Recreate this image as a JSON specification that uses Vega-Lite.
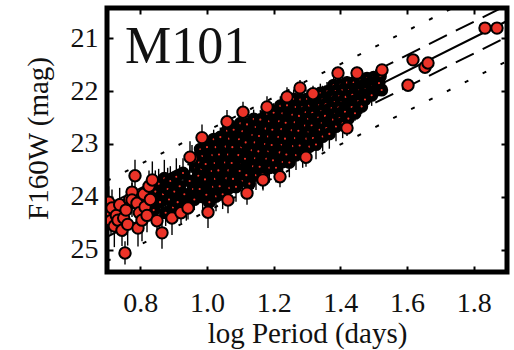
{
"$schema":"https://vega.github.io/schema/vega-lite/v6.json",
"width":400,"height":264,
"autosize":{"type":"none"},
"padding":{"left":107,"top":8,"right":7,"bottom":78},
"config":{"view":{"stroke":"black","strokeWidth":5},"font":"Liberation Serif"},
"datasets":{
"fit":[{"x":0.7,"y":24.456},{"x":1.9,"y":20.676}],
"dash":[{"x":0.7,"y":24.156,"g":"a"},{"x":1.9,"y":20.376,"g":"a"},{"x":0.7,"y":24.756,"g":"b"},{"x":1.9,"y":20.976,"g":"b"}],
"dot":[{"x":0.7,"y":23.696,"g":"a"},{"x":1.9,"y":19.916,"g":"a"},{"x":0.7,"y":25.216,"g":"b"},{"x":1.9,"y":21.436,"g":"b"}],
"lab":[{"x":0.754,"y":21.47,"t":"M101"}],
"core":[
{"x":0.840,"y":24.25,"e":0.25},{"x":0.845,"y":23.90,"e":0.4},{"x":0.855,"y":23.75,"e":0.28},{"x":0.859,"y":24.10,"e":0.32},
{"x":0.868,"y":23.95,"e":0.22},{"x":0.872,"y":23.65,"e":0.35},{"x":0.876,"y":24.30,"e":0.25},{"x":0.882,"y":23.85,"e":0.4},{"x":0.886,"y":24.05,"e":0.2},{"x":0.890,"y":23.70,"e":0.28},
{"x":0.898,"y":24.20,"e":0.3},{"x":0.902,"y":23.90,"e":0.22},{"x":0.908,"y":23.62,"e":0.35},{"x":0.912,"y":24.10,"e":0.25},{"x":0.918,"y":23.80,"e":0.4},{"x":0.928,"y":23.55,"e":0.28},{"x":0.932,"y":23.95,"e":0.32},
{"x":0.938,"y":24.15,"e":0.3},{"x":0.948,"y":23.70,"e":0.35},{"x":0.958,"y":23.85,"e":0.4},{"x":0.962,"y":24.05,"e":0.2},{"x":0.966,"y":23.45,"e":0.28},{"x":0.970,"y":23.65,"e":0.32},
{"x":0.980,"y":23.10,"e":0.18},{"x":0.986,"y":23.23,"e":0.26},{"x":0.976,"y":23.35,"e":0.14},{"x":0.983,"y":23.48,"e":0.3},{"x":0.974,"y":23.60,"e":0.2},{"x":0.984,"y":23.73,"e":0.24},{"x":0.978,"y":23.85,"e":0.16},{"x":0.987,"y":24.00,"e":0.28},
{"x":1.000,"y":23.06,"e":0.18},{"x":1.006,"y":23.20,"e":0.26},{"x":0.996,"y":23.38,"e":0.14},{"x":1.003,"y":23.52,"e":0.3},{"x":0.994,"y":23.67,"e":0.2},{"x":1.004,"y":23.81,"e":0.24},{"x":0.998,"y":23.96,"e":0.16},{"x":1.007,"y":24.10,"e":0.28},
{"x":1.020,"y":22.91,"e":0.18},{"x":1.026,"y":23.06,"e":0.26},{"x":1.016,"y":23.21,"e":0.14},{"x":1.023,"y":23.36,"e":0.3},{"x":1.014,"y":23.51,"e":0.2},{"x":1.024,"y":23.66,"e":0.24},{"x":1.018,"y":23.81,"e":0.16},{"x":1.027,"y":23.99,"e":0.28},
{"x":1.040,"y":22.87,"e":0.18},{"x":1.046,"y":23.02,"e":0.26},{"x":1.036,"y":23.20,"e":0.14},{"x":1.043,"y":23.35,"e":0.3},{"x":1.034,"y":23.50,"e":0.2},{"x":1.044,"y":23.65,"e":0.24},{"x":1.038,"y":23.80,"e":0.16},{"x":1.047,"y":23.95,"e":0.28},
{"x":1.060,"y":22.75,"e":0.18},{"x":1.066,"y":22.90,"e":0.26},{"x":1.056,"y":23.05,"e":0.14},{"x":1.063,"y":23.20,"e":0.3},{"x":1.054,"y":23.35,"e":0.2},{"x":1.064,"y":23.50,"e":0.24},{"x":1.058,"y":23.65,"e":0.16},{"x":1.067,"y":23.83,"e":0.28},
{"x":1.080,"y":22.73,"e":0.18},{"x":1.086,"y":22.88,"e":0.26},{"x":1.076,"y":23.06,"e":0.14},{"x":1.083,"y":23.21,"e":0.3},{"x":1.074,"y":23.36,"e":0.2},{"x":1.084,"y":23.51,"e":0.24},{"x":1.078,"y":23.66,"e":0.16},{"x":1.087,"y":23.81,"e":0.28},
{"x":1.100,"y":22.61,"e":0.18},{"x":1.106,"y":22.76,"e":0.26},{"x":1.096,"y":22.91,"e":0.14},{"x":1.103,"y":23.06,"e":0.3},{"x":1.094,"y":23.21,"e":0.2},{"x":1.104,"y":23.36,"e":0.24},{"x":1.098,"y":23.51,"e":0.16},{"x":1.107,"y":23.69,"e":0.28},
{"x":1.120,"y":22.63,"e":0.18},{"x":1.126,"y":22.79,"e":0.26},{"x":1.116,"y":22.97,"e":0.14},{"x":1.123,"y":23.13,"e":0.3},{"x":1.114,"y":23.28,"e":0.2},{"x":1.124,"y":23.44,"e":0.24},{"x":1.118,"y":23.59,"e":0.16},{"x":1.127,"y":23.75,"e":0.28},
{"x":1.140,"y":22.53,"e":0.18},{"x":1.146,"y":22.68,"e":0.26},{"x":1.136,"y":22.83,"e":0.14},{"x":1.143,"y":22.97,"e":0.3},{"x":1.134,"y":23.12,"e":0.2},{"x":1.144,"y":23.27,"e":0.24},{"x":1.138,"y":23.42,"e":0.16},{"x":1.147,"y":23.59,"e":0.28},
{"x":1.160,"y":22.54,"e":0.18},{"x":1.166,"y":22.68,"e":0.26},{"x":1.156,"y":22.85,"e":0.14},{"x":1.163,"y":23.00,"e":0.3},{"x":1.154,"y":23.14,"e":0.2},{"x":1.164,"y":23.28,"e":0.24},{"x":1.158,"y":23.43,"e":0.16},{"x":1.167,"y":23.57,"e":0.28},
{"x":1.180,"y":22.43,"e":0.18},{"x":1.186,"y":22.57,"e":0.26},{"x":1.176,"y":22.71,"e":0.14},{"x":1.183,"y":22.86,"e":0.3},{"x":1.174,"y":23.00,"e":0.2},{"x":1.184,"y":23.14,"e":0.24},{"x":1.178,"y":23.28,"e":0.16},{"x":1.187,"y":23.45,"e":0.28},
{"x":1.200,"y":22.41,"e":0.18},{"x":1.206,"y":22.55,"e":0.26},{"x":1.196,"y":22.73,"e":0.14},{"x":1.203,"y":22.87,"e":0.3},{"x":1.194,"y":23.02,"e":0.2},{"x":1.204,"y":23.16,"e":0.24},{"x":1.198,"y":23.31,"e":0.16},{"x":1.207,"y":23.45,"e":0.28},
{"x":1.220,"y":22.28,"e":0.18},{"x":1.226,"y":22.42,"e":0.26},{"x":1.216,"y":22.57,"e":0.14},{"x":1.223,"y":22.72,"e":0.3},{"x":1.214,"y":22.87,"e":0.2},{"x":1.224,"y":23.01,"e":0.24},{"x":1.218,"y":23.16,"e":0.16},{"x":1.227,"y":23.34,"e":0.28},
{"x":1.240,"y":22.27,"e":0.18},{"x":1.246,"y":22.42,"e":0.26},{"x":1.236,"y":22.60,"e":0.14},{"x":1.243,"y":22.75,"e":0.3},{"x":1.234,"y":22.90,"e":0.2},{"x":1.244,"y":23.05,"e":0.24},{"x":1.238,"y":23.20,"e":0.16},{"x":1.247,"y":23.35,"e":0.28},
{"x":1.260,"y":22.15,"e":0.18},{"x":1.266,"y":22.30,"e":0.26},{"x":1.256,"y":22.45,"e":0.14},{"x":1.263,"y":22.59,"e":0.3},{"x":1.254,"y":22.74,"e":0.2},{"x":1.264,"y":22.89,"e":0.24},{"x":1.258,"y":23.04,"e":0.16},{"x":1.267,"y":23.21,"e":0.28},
{"x":1.280,"y":22.16,"e":0.18},{"x":1.286,"y":22.30,"e":0.26},{"x":1.276,"y":22.47,"e":0.14},{"x":1.283,"y":22.61,"e":0.3},{"x":1.274,"y":22.75,"e":0.2},{"x":1.284,"y":22.89,"e":0.24},{"x":1.278,"y":23.03,"e":0.16},{"x":1.287,"y":23.17,"e":0.28},
{"x":1.300,"y":22.15,"e":0.18},{"x":1.306,"y":22.28,"e":0.26},{"x":1.296,"y":22.40,"e":0.14},{"x":1.303,"y":22.53,"e":0.3},{"x":1.294,"y":22.65,"e":0.2},{"x":1.304,"y":22.78,"e":0.24},{"x":1.298,"y":22.90,"e":0.16},{"x":1.307,"y":23.05,"e":0.28},
{"x":1.320,"y":22.14,"e":0.18},{"x":1.326,"y":22.26,"e":0.26},{"x":1.316,"y":22.41,"e":0.14},{"x":1.323,"y":22.53,"e":0.3},{"x":1.314,"y":22.65,"e":0.2},{"x":1.324,"y":22.77,"e":0.24},{"x":1.318,"y":22.89,"e":0.16},{"x":1.327,"y":23.01,"e":0.28},
{"x":1.340,"y":22.04,"e":0.18},{"x":1.346,"y":22.16,"e":0.26},{"x":1.336,"y":22.27,"e":0.14},{"x":1.343,"y":22.38,"e":0.3},{"x":1.334,"y":22.50,"e":0.2},{"x":1.344,"y":22.61,"e":0.24},{"x":1.338,"y":22.73,"e":0.16},{"x":1.347,"y":22.86,"e":0.28},
{"x":1.360,"y":22.01,"e":0.18},{"x":1.366,"y":22.12,"e":0.26},{"x":1.356,"y":22.25,"e":0.14},{"x":1.363,"y":22.36,"e":0.3},{"x":1.354,"y":22.47,"e":0.2},{"x":1.364,"y":22.59,"e":0.24},{"x":1.358,"y":22.70,"e":0.16},{"x":1.367,"y":22.81,"e":0.28},
{"x":1.380,"y":21.89,"e":0.18},{"x":1.386,"y":22.00,"e":0.26},{"x":1.376,"y":22.11,"e":0.14},{"x":1.383,"y":22.21,"e":0.3},{"x":1.374,"y":22.32,"e":0.2},{"x":1.384,"y":22.43,"e":0.24},{"x":1.378,"y":22.54,"e":0.16},{"x":1.387,"y":22.67,"e":0.28},
{"x":1.400,"y":21.88,"e":0.18},{"x":1.406,"y":21.98,"e":0.26},{"x":1.396,"y":22.10,"e":0.14},{"x":1.403,"y":22.21,"e":0.3},{"x":1.394,"y":22.31,"e":0.2},{"x":1.404,"y":22.41,"e":0.24},{"x":1.398,"y":22.51,"e":0.16},{"x":1.407,"y":22.61,"e":0.28},
{"x":1.420,"y":21.84,"e":0.12},{"x":1.426,"y":21.98,"e":0.18},{"x":1.416,"y":22.11,"e":0.1},{"x":1.423,"y":22.25,"e":0.15},{"x":1.414,"y":22.39,"e":0.2},{"x":1.424,"y":22.52,"e":0.14},
{"x":1.440,"y":21.84,"e":0.12},{"x":1.446,"y":21.96,"e":0.18},{"x":1.436,"y":22.07,"e":0.1},{"x":1.443,"y":22.19,"e":0.15},{"x":1.434,"y":22.30,"e":0.2},{"x":1.444,"y":22.42,"e":0.14},
{"x":1.460,"y":21.80,"e":0.12},{"x":1.466,"y":21.90,"e":0.18},{"x":1.456,"y":21.99,"e":0.1},{"x":1.463,"y":22.09,"e":0.15},{"x":1.454,"y":22.19,"e":0.2},{"x":1.464,"y":22.29,"e":0.14},
{"x":1.480,"y":21.76,"e":0.12},{"x":1.486,"y":21.86,"e":0.18},{"x":1.476,"y":21.96,"e":0.1},{"x":1.483,"y":22.06,"e":0.15},{"x":1.474,"y":22.16,"e":0.2},
{"x":1.500,"y":21.74,"e":0.12},{"x":1.506,"y":21.83,"e":0.18},{"x":1.496,"y":21.91,"e":0.1},{"x":1.503,"y":22.00,"e":0.15},{"x":1.494,"y":22.08,"e":0.2},
{"x":1.520,"y":21.72,"e":0.12},{"x":1.516,"y":21.85,"e":0.18},{"x":1.524,"y":21.98,"e":0.1}
],
"outer":[
{"x":0.705,"y":24.10,"e":0.3},{"x":0.710,"y":24.30,"e":0.22},{"x":0.715,"y":24.21,"e":0.35},{"x":0.712,"y":24.45,"e":0.25},{"x":0.722,"y":24.55,"e":0.4},{"x":0.728,"y":24.35,"e":0.2},{"x":0.733,"y":24.44,"e":0.28},{"x":0.738,"y":24.15,"e":0.32},
{"x":0.745,"y":24.63,"e":0.3},{"x":0.754,"y":25.06,"e":0.22},{"x":0.750,"y":24.40,"e":0.35},{"x":0.757,"y":24.25,"e":0.25},{"x":0.762,"y":24.52,"e":0.4},{"x":0.768,"y":24.05,"e":0.2},{"x":0.775,"y":23.91,"e":0.28},{"x":0.775,"y":24.06,"e":0.32},
{"x":0.784,"y":23.60,"e":0.3},{"x":0.790,"y":24.12,"e":0.22},{"x":0.793,"y":24.59,"e":0.35},{"x":0.797,"y":24.30,"e":0.25},{"x":0.805,"y":24.44,"e":0.4},{"x":0.810,"y":23.95,"e":0.2},{"x":0.814,"y":24.19,"e":0.28},{"x":0.820,"y":24.35,"e":0.32},
{"x":0.826,"y":23.80,"e":0.3},{"x":0.830,"y":24.05,"e":0.22},{"x":0.836,"y":23.68,"e":0.35},{"x":0.850,"y":24.45,"e":0.2},{"x":0.865,"y":24.68,"e":0.3},{"x":0.895,"y":24.40,"e":0.32},{"x":0.922,"y":24.30,"e":0.2},{"x":0.943,"y":24.21,"e":0.22},{"x":0.955,"y":23.27,"e":0.25},
{"x":0.949,"y":23.25,"e":0.3},{"x":0.985,"y":22.88,"e":0.25},{"x":1.060,"y":22.58,"e":0.22},{"x":1.108,"y":22.40,"e":0.2},{"x":1.180,"y":22.30,"e":0.2},{"x":1.240,"y":22.11,"e":0.18},{"x":1.279,"y":21.94,"e":0.15},{"x":1.318,"y":22.05,"e":0.15},
{"x":1.393,"y":21.66,"e":0.12},{"x":1.450,"y":21.66,"e":0.12},{"x":1.525,"y":21.60,"e":0.1},{"x":1.603,"y":21.89,"e":0.1},{"x":1.618,"y":21.41,"e":0.1},{"x":1.654,"y":21.55,"e":0.1},{"x":1.663,"y":21.47,"e":0.1},{"x":1.834,"y":20.81,"e":0.08},{"x":1.870,"y":20.81,"e":0.08},
{"x":1.003,"y":24.29,"e":0.3},{"x":1.063,"y":24.06,"e":0.25},{"x":1.120,"y":23.93,"e":0.22},{"x":1.168,"y":23.68,"e":0.2},{"x":1.219,"y":23.62,"e":0.2},{"x":1.297,"y":23.25,"e":0.18},{"x":1.420,"y":22.70,"e":0.15}
]},
"resolve":{"axis":{"x":"independent","y":"independent"}},
"layer":[
{"data":{"name":"fit"},"mark":{"type":"line","color":"black","strokeWidth":2,"clip":true},
 "encoding":{
  "x":{"field":"x","type":"quantitative","scale":{"domain":[0.7,1.9],"nice":false,"zero":false},
   "axis":{"orient":"top","labels":false,"title":null,"domain":false,"grid":false,"values":[0.8,1.0,1.2,1.4,1.6,1.8],"tickSize":-6,"tickWidth":2,"tickColor":"black"}},
  "y":{"field":"y","type":"quantitative","scale":{"domain":[20.43,25.42],"reverse":true,"nice":false,"zero":false},
   "axis":{"orient":"right","labels":false,"title":null,"domain":false,"grid":false,"values":[21,22,23,24,25],"tickSize":-6,"tickWidth":2,"tickColor":"black"}}}},
{"data":{"name":"dash"},"mark":{"type":"line","color":"black","strokeWidth":2,"strokeDash":[20,10],"clip":true},
 "encoding":{"x":{"field":"x","type":"quantitative","axis":null},"y":{"field":"y","type":"quantitative","axis":null},"detail":{"field":"g"}}},
{"data":{"name":"dot"},"mark":{"type":"line","color":"black","strokeWidth":2,"strokeDash":[4,16],"clip":true},
 "encoding":{"x":{"field":"x","type":"quantitative","axis":null},"y":{"field":"y","type":"quantitative","axis":null},"detail":{"field":"g"}}},
{"data":{"name":"core"},"mark":{"type":"errorbar","color":"black","rule":{"strokeWidth":1.4},"clip":true},
 "encoding":{"x":{"field":"x","type":"quantitative","axis":null},"y":{"field":"y","type":"quantitative","axis":null},"yError":{"field":"e"}}},
{"data":{"name":"outer"},"mark":{"type":"errorbar","color":"black","rule":{"strokeWidth":1.4},"clip":true},
 "encoding":{"x":{"field":"x","type":"quantitative","axis":null},"y":{"field":"y","type":"quantitative","axis":null},"yError":{"field":"e"}}},
{"data":{"name":"core"},"mark":{"type":"circle","fill":"#ec3328","fillOpacity":1,"opacity":1,"stroke":"black","strokeWidth":5.5,"size":58,"clip":true},
 "encoding":{"x":{"field":"x","type":"quantitative","axis":null},"y":{"field":"y","type":"quantitative","axis":null}}},
{"data":{"name":"outer"},"mark":{"type":"circle","fill":"#ec3328","fillOpacity":1,"opacity":1,"stroke":"black","strokeWidth":2,"size":130,"clip":true},
 "encoding":{
  "x":{"field":"x","type":"quantitative",
   "axis":{"orient":"bottom","title":"log Period (days)","values":[0.8,1.0,1.2,1.4,1.6,1.8],"format":".1f","domain":false,"grid":false,"tickSize":-6,"tickWidth":2,"tickColor":"black","labelPadding":23,"labelFontSize":28,"labelFont":"Liberation Serif","labelColor":"#111","titleFontSize":29,"titleFont":"Liberation Serif","titleFontWeight":"normal","titleColor":"#111","titleBaseline":"alphabetic","titleY":70}},
  "y":{"field":"y","type":"quantitative",
   "axis":{"orient":"left","title":"F160W (mag)","values":[21,22,23,24,25],"format":"d","domain":false,"grid":false,"tickSize":-6,"tickWidth":2,"tickColor":"black","labelPadding":15,"labelFontSize":28,"labelFont":"Liberation Serif","labelColor":"#111","titleFontSize":29,"titleFont":"Liberation Serif","titleFontWeight":"normal","titleColor":"#111","titleBaseline":"alphabetic","titleX":-60,"titleY":130}}}},
{"data":{"name":"lab"},"mark":{"type":"text","align":"left","baseline":"alphabetic","fontSize":52,"font":"Liberation Serif","color":"#111"},
 "encoding":{"x":{"field":"x","type":"quantitative","axis":null},"y":{"field":"y","type":"quantitative","axis":null},"text":{"field":"t"}}}
]
}
